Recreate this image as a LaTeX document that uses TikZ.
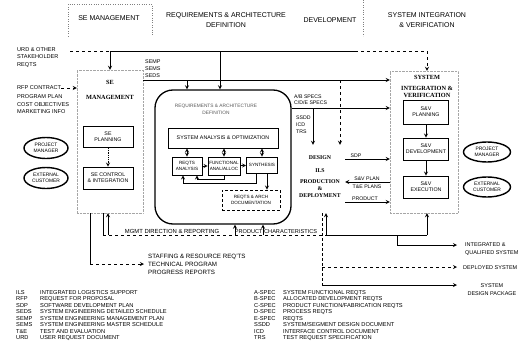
\documentclass[tikz,border=0pt]{standalone}
\usepackage{fontspec}
\setmainfont{Liberation Sans}
\newfontfamily\grpfont{Liberation Serif}
\usetikzlibrary{arrows, shapes.geometric, positioning}

\tikzstyle{arrow}    = [thick,->,>=stealth]
\tikzstyle{wire}     = [thick]
\tikzstyle{block}    = [thick, draw, rectangle, inner sep=1pt, align=center, font=\fontsize{5.3}{6.3}\selectfont]
\tikzstyle{subblock} = [block, font=\fontsize{4.6}{5.4}\selectfont]
\tikzstyle{actor}    = [line width=1.4pt, draw, ellipse, inner sep=0pt, minimum width=44, minimum height=21, align=center, font=\fontsize{4.9}{5.7}\selectfont]
\tikzstyle{grpbox}   = [draw, densely dotted, gray!70, thin, inner sep=0pt]
\tikzstyle{grptitle} = [font=\grpfont\bfseries\fontsize{6.3}{7}\selectfont, align=center]
\tikzstyle{hdr}      = [font=\fontsize{7}{10}\selectfont, align=center]
\tikzstyle{lbl}      = [font=\fontsize{5.6}{7.5}\selectfont, align=left, inner sep=0pt]
\tikzstyle{gloss}    = [font=\fontsize{5.7}{6.5}\selectfont, align=left, inner sep=0pt, anchor=north west]
\tikzstyle{colsep}   = [dotted, gray]

\begin{document}
\begin{tikzpicture}[x=1pt, y=-1pt]

\fill[white] (0,0) rectangle (522,348);
\useasboundingbox (0,0) rectangle (522,348);

% column headers
\node[hdr] (hSE)  at (109,18) {SE MANAGEMENT};
\node[hdr] (hRAD) at (226,20) {REQUIREMENTS \& ARCHITECTURE\\DEFINITION};
\node[hdr] (hDEV) at (330,20) {DEVELOPMENT};
\node[hdr] (hSIV) at (427,20) {SYSTEM INTEGRATION\\\& VERIFICATION};
\draw[colsep] (68,36) -- (68,4) -- (152,4) -- (152,36);
\draw[colsep] (363,0) -- (363,36);

% process groups
\node[grpbox, minimum width=66, minimum height=143] (segrp) at (110,141.5) {};
\node[inner sep=0pt, minimum width=52, minimum height=68] (devgrp) at (319,179) {};
\node[grpbox, minimum width=68, minimum height=142] (sivgrp) at (424,142) {};

\node[grptitle] (seT)  at (110,89.5) {SE\\[8pt]MANAGEMENT};
\node[grptitle] (sivT) at (427,86) {SYSTEM\\[4pt]INTEGRATION \&\\VERIFICATION};
\node[grptitle, font=\grpfont\bfseries\fontsize{5.8}{7}\selectfont] (devT) at (320,177) {DESIGN\\[6pt]ILS\\[4pt]PRODUCTION\\\&\\DEPLOYMENT};

% SE management
\node[block, minimum width=50, minimum height=21] (sepl) at (108,137) {SE\\PLANNING};
\node[block, minimum width=50, minimum height=22] (secon) at (108,178) {SE CONTROL\\\& INTEGRATION};

% requirements & architecture definition
\node[draw, line width=1.3pt, rounded corners=18pt, minimum width=136, minimum height=134] (rad) at (223,157) {};
\node[font=\fontsize{4.8}{7}\selectfont, align=center, text=gray!70!black] (radT) at (216,109) {REQUIREMENTS \& ARCHITECTURE\\DEFINITION};
\node[block, minimum width=110, minimum height=20] (sao) at (223,138) {SYSTEM ANALYSIS \& OPTIMIZATION};
\node[subblock, minimum width=30, minimum height=18] (rqa) at (187,166) {REQTS\\ANALYSIS};
\node[subblock, minimum width=32, minimum height=18] (faa) at (224,166) {FUNCTIONAL\\ANAL/ALLOC};
\node[subblock, minimum width=31, minimum height=16] (syn) at (262,165) {SYNTHESIS};
\node[subblock, densely dashed, minimum width=58, minimum height=20] (rqd) at (251,200) {REQTS \& ARCH\\DOCUMENTATION};

% system integration & verification
\node[block, minimum width=45, minimum height=24] (svp) at (426,112) {S\&V\\PLANNING};
\node[block, minimum width=45, minimum height=22] (svd) at (426,149) {S\&V\\DEVELOPMENT};
\node[block, minimum width=45, minimum height=22] (sve) at (426,187) {S\&V\\EXECUTION};

% stakeholders
\node[actor] (pmL) at (46,148) {PROJECT\\MANAGER};
\node[actor] (ecL) at (46,178) {EXTERNAL\\CUSTOMER};
\node[actor, minimum width=47, minimum height=20] (pmR) at (487,152) {PROJECT\\MANAGER};
\node[actor, minimum width=47, minimum height=20] (ecR) at (487,187) {EXTERNAL\\CUSTOMER};

% inputs and flow labels
\node[lbl, anchor=west] (urd) at (17,57.5) {URD \& OTHER\\STAKEHOLDER\\REQTS};
\node[lbl, anchor=west] (rfp) at (17,88) {RFP CONTRACT};
\node[lbl, anchor=north west] (pgm) at (17,94.5) {PROGRAM PLAN\\COST OBJECTIVES\\MARKETING INFO};
\node[lbl, anchor=west, font=\fontsize{5.4}{7}\selectfont] (semp) at (145,69) {SEMP\\SEMS\\SEDS};
\node[lbl, anchor=west, font=\fontsize{5.2}{6}\selectfont] (specs) at (294,99.5) {A/B SPECS\\C/D/E SPECS};
\node[lbl, anchor=west, font=\fontsize{5.2}{7}\selectfont] (ssdd) at (296,125) {SSDD\\ICD\\TRS};
\node[lbl, anchor=south, font=\fontsize{5.2}{7}\selectfont] (sdpL)  at (356,157.5) {SDP};
\node[lbl, anchor=south, font=\fontsize{5.2}{7}\selectfont] (svplL) at (367,180.5) {S\&V PLAN};
\node[lbl, anchor=north, font=\fontsize{5.2}{7}\selectfont] (tepL)  at (367,185) {T\&E PLANS};
\node[lbl, anchor=south, font=\fontsize{5.2}{7}\selectfont] (prodL) at (365,200.5) {PRODUCT};
\node[lbl, anchor=south, font=\fontsize{5.9}{7}\selectfont] (mgmtL) at (172,233.5) {MGMT DIRECTION \& REPORTING};
\node[lbl, anchor=south] (pcL)   at (276,233.5) {PRODUCT CHARACTERISTICS};
\node[lbl, anchor=west, font=\fontsize{6.2}{8}\selectfont] (staff) at (148,264) {STAFFING \& RESOURCE REQ'TS\\TECHNICAL PROGRAM\\PROGRESS REPORTS};

% outputs
\node[lbl, anchor=west, font=\fontsize{5.5}{8}\selectfont] (intq) at (465,249) {INTEGRATED \&\\QUALIFIED SYSTEM};
\node[lbl, anchor=west, font=\fontsize{5.5}{8}\selectfont] (depl) at (463,267.5) {DEPLOYED SYSTEM};
\node[lbl, align=center, font=\fontsize{5.5}{8}\selectfont] (sdpk) at (492,290) {SYSTEM\\DESIGN PACKAGE};

% glossary
\node[gloss] (gl1) at (16,290) {ILS\\RFP\\SDP\\SEDS\\SEMP\\SEMS\\T\&E\\URD};
\node[gloss] (gl2) at (40,290) {INTEGRATED LOGISTICS SUPPORT\\REQUEST FOR PROPOSAL\\SOFTWARE DEVELOPMENT PLAN\\SYSTEM ENGINEERING DETAILED SCHEDULE\\SYSTEM ENGINEERING MANAGEMENT PLAN\\SYSTEM ENGINEERING MASTER SCHEDULE\\TEST AND EVALUATION\\USER REQUEST DOCUMENT};
\node[gloss] (gl3) at (254,290) {A-SPEC\\B-SPEC\\C-SPEC\\D-SPEC\\E-SPEC\\SSDD\\ICD\\TRS};
\node[gloss] (gl4) at (283,290) {SYSTEM FUNCTIONAL REQTS\\ALLOCATED DEVELOPMENT REQTS\\PRODUCT FUNCTION/FABRICATION REQTS\\PROCESS REQTS\\REQTS\\SYSTEM/SEGMENT DESIGN DOCUMENT\\INTERFACE CONTROL DOCUMENT\\TEST REQUEST SPECIFICATION};

% stakeholder requirements line
\coordinate (urdE) at (70,51);
\coordinate (t1) at (110,51);
\coordinate (t2) at (220,51);
\coordinate (t3) at (355,51);
\coordinate (t4) at (427,51);
\draw[wire, dashed] (urdE) -- (t1);
\draw[wire] (t1) -- (t3);
\draw[wire, dashed] (t3) -- (t4);
\draw[arrow] (t1) -- (segrp.north);
\draw[arrow] (t2) -- (t2 |- rad.north);
\draw[arrow, dashed] (t4) -- (t4 |- sivgrp.north);
\draw[arrow, dashed] (rfp.east) -- (rfp.east -| segrp.west);

% plans and schedules
\coordinate (s0) at (143,80);
\coordinate (s1) at (187,80);
\coordinate (s2) at (340,80);
\draw[arrow] (s0) -- (s0 -| sivgrp.west);
\draw[arrow] (s1) -- (s1 |- rad.north);
\draw[arrow, dashed] (s2) -- (s2 |- devgrp.north);

% specifications
\coordinate (p1) at (313,108);
\draw[arrow] (p1 -| rad.east) -- (p1 -| sivgrp.west);
\draw[arrow] (p1) -- (p1 |- devgrp.north);

% development <-> integration
\draw[arrow] (devgrp.east |- 0,159) -- (sivgrp.west |- 0,159);
\draw[arrow] (sivgrp.west |- 0,182) -- (devgrp.east |- 0,182);
\draw[arrow] (devgrp.east |- 0,202) -- (sivgrp.west |- 0,202);
\draw[arrow] (svp) -- (svd);
\draw[arrow] (svd) -- (sve);

% SE management internals
\draw[arrow, densely dotted] (sepl) -- (secon);

% requirements internals
\draw[arrow, <->] (sao.south -| rqa) -- (rqa.north);
\draw[arrow, <->] (sao.south -| faa) -- (faa.north);
\draw[arrow, <->] (sao.south -| syn) -- (syn.north);
\draw[arrow] (rqa) -- (faa);
\draw[arrow] (faa) -- (syn);
\draw[arrow] (faa.south) -- ++(0,4) -| ([xshift=10pt]rqa.south);
\draw[arrow] ([xshift=-6pt]syn.south) -- ++(0,10) -| ([xshift=-4pt]rqa.south);
\draw[arrow] ([xshift=5pt]syn.south) -- ([xshift=5pt]syn.south |- rqd.north);

% management direction bus
\coordinate (m0) at (103,235);
\coordinate (m1) at (108,235);
\coordinate (m2) at (235,235);
\coordinate (m3) at (263,235);
\coordinate (m4) at (326,235);
\coordinate (m5) at (397,235);
\coordinate (m6) at (427,235);
\draw[wire] (m0 |- segrp.south) -- (m0);
\draw[wire, dashed] (m0) -- (m4);
\draw[wire] (m4) -- (m6);
\draw[arrow] (m1) -- (m1 |- segrp.south);
\draw[arrow] (m2) -- (m2 |- rad.south);
\draw[arrow] (m3) -- (m3 |- rad.south);
\draw[arrow] (m4) -- (m4 |- devgrp.south);
\draw[arrow] (m6) -- (m6 |- sivgrp.south);

% outputs
\coordinate (o1) at (457,245);
\coordinate (o2) at (457,267);
\coordinate (o3) at (457,285);
\coordinate (d0) at ([xshift=3pt]devgrp.south);
\draw[arrow] (m5) |- (o1);
\draw[wire, densely dashed] (d0) -- (d0 |- o3);
\draw[arrow, dashed] (d0 |- o2) -- (o2);
\draw[arrow] (d0 |- o3) -- (o3);

% staffing and progress reports
\coordinate (f0) at (90,264);
\draw[wire] (f0 |- segrp.south) -- (f0);
\draw[arrow, dashed] (f0) -- ([xshift=-4pt]staff.west);

\end{tikzpicture}
\end{document}
